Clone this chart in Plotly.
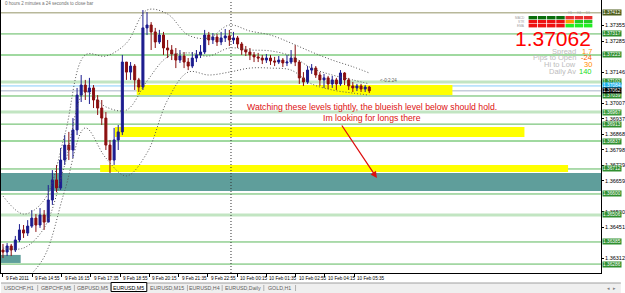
import plotly.graph_objects as go

# ---------------- chart values ----------------
bars = list(range(90))
opens = [1.36349, 1.36340, 1.36367, 1.36349, 1.36394, 1.36439, 1.36425, 1.36456, 1.36492, 1.36461,
         1.36506, 1.36474, 1.36573, 1.36663, 1.36627, 1.36752, 1.36819, 1.36797, 1.36887, 1.37043,
         1.37088, 1.37057, 1.37075, 1.37021, 1.36985, 1.36940, 1.36819, 1.36752, 1.36842, 1.36878,
         1.37191, 1.37146, 1.37173, 1.37111, 1.37079, 1.37344, 1.37357, 1.37326, 1.37281, 1.37312,
         1.37254, 1.37245, 1.37227, 1.37200, 1.37218, 1.37191, 1.37173, 1.37209, 1.37223, 1.37236,
         1.37312, 1.37290, 1.37303, 1.37281, 1.37299, 1.37308, 1.37290, 1.37299, 1.37272, 1.37245,
         1.37236, 1.37223, 1.37214, 1.37209, 1.37200, 1.37209, 1.37196, 1.37191, 1.37200, 1.37187,
         1.37191, 1.37209, 1.37191, 1.37120, 1.37102, 1.37155, 1.37164, 1.37133, 1.37111, 1.37120,
         1.37093, 1.37111, 1.37093, 1.37142, 1.37111, 1.37084, 1.37075, 1.37084, 1.37070, 1.37079]
highs = [1.36376, 1.36380, 1.36376, 1.36412, 1.36465, 1.36461, 1.36483, 1.36528, 1.36510, 1.36537,
         1.36528, 1.36640, 1.36707, 1.36730, 1.36806, 1.36864, 1.36878, 1.36940, 1.37075, 1.37133,
         1.37111, 1.37120, 1.37088, 1.37043, 1.37021, 1.36967, 1.36842, 1.36896, 1.36909, 1.37223,
         1.37191, 1.37191, 1.37182, 1.37120, 1.37424, 1.37415, 1.37370, 1.37344, 1.37335, 1.37326,
         1.37290, 1.37267, 1.37254, 1.37245, 1.37236, 1.37209, 1.37236, 1.37245, 1.37267, 1.37335,
         1.37326, 1.37321, 1.37317, 1.37326, 1.37339, 1.37335, 1.37326, 1.37308, 1.37281, 1.37263,
         1.37254, 1.37236, 1.37232, 1.37223, 1.37227, 1.37223, 1.37214, 1.37218, 1.37209, 1.37223,
         1.37245, 1.37267, 1.37200, 1.37146, 1.37173, 1.37182, 1.37173, 1.37146, 1.37138, 1.37129,
         1.37129, 1.37120, 1.37155, 1.37146, 1.37120, 1.37102, 1.37093, 1.37093, 1.37088, 1.37084]
lows = [1.36313, 1.36322, 1.36322, 1.36340, 1.36385, 1.36403, 1.36412, 1.36448, 1.36430, 1.36448,
        1.36439, 1.36474, 1.36551, 1.36609, 1.36618, 1.36730, 1.36752, 1.36761, 1.36864, 1.37012,
        1.37021, 1.37003, 1.36985, 1.36954, 1.36909, 1.36797, 1.36694, 1.36730, 1.36797, 1.36864,
        1.37111, 1.37111, 1.37066, 1.37057, 1.37066, 1.37312, 1.37245, 1.37254, 1.37272, 1.37223,
        1.37209, 1.37200, 1.37164, 1.37187, 1.37164, 1.37155, 1.37164, 1.37191, 1.37209, 1.37227,
        1.37267, 1.37272, 1.37263, 1.37267, 1.37281, 1.37263, 1.37272, 1.37254, 1.37223, 1.37218,
        1.37200, 1.37191, 1.37191, 1.37182, 1.37187, 1.37178, 1.37173, 1.37182, 1.37169, 1.37173,
        1.37182, 1.37173, 1.37093, 1.37084, 1.37093, 1.37138, 1.37120, 1.37084, 1.37075, 1.37070,
        1.37075, 1.37066, 1.37084, 1.37088, 1.37066, 1.37057, 1.37061, 1.37057, 1.37057, 1.37052]
closes = [1.36340, 1.36367, 1.36349, 1.36394, 1.36439, 1.36425, 1.36456, 1.36492, 1.36461, 1.36506,
          1.36474, 1.36573, 1.36663, 1.36627, 1.36752, 1.36819, 1.36797, 1.36887, 1.37043, 1.37088,
          1.37057, 1.37075, 1.37021, 1.36985, 1.36940, 1.36819, 1.36752, 1.36842, 1.36878, 1.37191,
          1.37146, 1.37173, 1.37111, 1.37079, 1.37344, 1.37357, 1.37326, 1.37281, 1.37312, 1.37254,
          1.37245, 1.37227, 1.37200, 1.37218, 1.37191, 1.37173, 1.37209, 1.37223, 1.37236, 1.37312,
          1.37290, 1.37303, 1.37281, 1.37299, 1.37308, 1.37290, 1.37299, 1.37272, 1.37245, 1.37236,
          1.37223, 1.37214, 1.37209, 1.37200, 1.37209, 1.37196, 1.37191, 1.37200, 1.37187, 1.37191,
          1.37209, 1.37191, 1.37120, 1.37102, 1.37155, 1.37164, 1.37133, 1.37111, 1.37120, 1.37093,
          1.37111, 1.37093, 1.37142, 1.37111, 1.37084, 1.37075, 1.37084, 1.37070, 1.37079, 1.37062]

band_bars = [0, 5, 10, 15, 20, 25, 30, 35, 40, 45, 50, 55, 60, 65, 70, 75, 80, 85, 89]
bb_upper = [1.36591, 1.36510, 1.36573, 1.36864, 1.37223, 1.37218, 1.37276, 1.37424, 1.37406, 1.37312,
            1.37299, 1.37357, 1.37330, 1.37312, 1.37276, 1.37236, 1.37200, 1.37170, 1.37142]
bb_middle = [1.36358, 1.36358, 1.36448, 1.36730, 1.37057, 1.36990, 1.36976, 1.37106, 1.37214, 1.37232,
             1.37218, 1.37254, 1.37245, 1.37241, 1.37218, 1.37164, 1.37133, 1.37111, 1.37093]
bb_lower = [1.36125, 1.36206, 1.36318, 1.36615, 1.36896, 1.36761, 1.36681, 1.36784, 1.37021, 1.37146,
            1.37133, 1.37146, 1.37164, 1.37164, 1.37155, 1.37093, 1.37066, 1.37052, 1.37043]

time_labels = ["9 Feb 2011", "9 Feb 14:55", "9 Feb 16:15", "9 Feb 17:35", "9 Feb 18:55", "9 Feb 20:15",
               "9 Feb 21:35", "9 Feb 22:55", "10 Feb 00:15", "10 Feb 01:35", "10 Feb 02:55",
               "10 Feb 04:15", "10 Feb 05:35"]
tick_prices = [1.37355, 1.37285, 1.37146, 1.37007, 1.36937, 1.36868, 1.36798, 1.36729, 1.36659,
               1.36520, 1.36451, 1.36312]

level_prices = [1.37412, 1.37317, 1.37223, 1.37102, 1.37084, 1.37039, 1.36967, 1.36913, 1.36837,
                1.36712, 1.36600, 1.36506, 1.36385, 1.36286]
level_colors = ["#b8b89a", "#5cb85c", "#80cc80", "#c2e5c2", "#87cefa", "#5cb85c", "#c2e5c2", "#5cb85c",
                "#80cc80", "#5cb85c", "#5cb85c", "#c2e5c2", "#5cb85c", "#5cb85c"]
level_widths = [1.5, 1, 1.5, 3, 1, 1, 3, 1, 1.5, 1, 1, 3, 1, 1]
level_tags = ["#4e5e1c", "#2f8f2f", "#2f8f2f", "#2f8f2f", "#1fb4f0", "#2f8f2f", "#3c9c3c", "#2f8f2f",
              "#2f8f2f", "#2f8f2f", "#2f8f2f", "#2f8f2f", "#2f8f2f", "#2f8f2f"]

yellow_lo = [1.37043, 1.36855, 1.36698]
yellow_hi = [1.37088, 1.36900, 1.36730]
yellow_from = [32.5, 27.2, 23.6]
yellow_to = [109.2, 126.7, 137.3]
teal_lo, teal_hi = 1.36613, 1.36694
small_teal_lo, small_teal_hi, small_teal_to = 1.36291, 1.36327, 4.3
day_separator_bar = 55.4

panel_rows = ["MACD", "STR", "EMA"]
panel_cols = ["M1", "M5", "M15", "M30", "H1", "H4", "D1"]
panel_colors = [["#0b6e0b", "#0b6e0b", "#0b6e0b", "#0b6e0b", "#e83030", "#e83030", "#e83030"],
                ["#ee1111", "#ee1111", "#ee1111", "#ee1111", "#ff9900", "#22cc22", "#22cc22"],
                ["#ee1111", "#ee1111", "#ee1111", "#ee1111", "#22ee22", "#22ee22", "#22ee22"]]
info_names = ["Spread", "Pips to Open", "Hi to Low", "Daily Av"]
info_values = ["1.7", "-24", "30", "140"]
info_colors = ["#ff8c00", "#ff5a00", "#ff8c00", "#22dd22"]

tabs = ["USDCHF,H1", "GBPCHF,M5", "GBPUSD,M5", "EURUSD,M5", "EURUSD,M15", "EURUSD,H4", "EURUSD,Daily", "GOLD,H1"]
active_tab = 3
note_lines = ["Watching these levels tightly, the blueish level below should hold.",
              "Im looking for longs there"]

# ---------------- layout geometry ----------------
W, H = 625, 293
PW, PH = 605, 273
BAR_PX = 4.15
FONT = "Arial, Liberation Sans, sans-serif"


def px(x):
    return x / PW


def py(y):
    return (PH - y) / PH


fig = go.Figure()

for band in (bb_upper, bb_middle, bb_lower):
    fig.add_trace(go.Scatter(x=band_bars, y=band, mode="lines",
                             line=dict(color="#555555", width=1, dash="1px,2px", shape="spline"),
                             hoverinfo="skip", showlegend=False))

fig.add_trace(go.Candlestick(
    x=bars, open=opens, high=highs, low=lows, close=closes,
    increasing=dict(line=dict(color="#1c1c8f", width=1), fillcolor="#1c1c8f"),
    decreasing=dict(line=dict(color="#8b0f0f", width=1), fillcolor="#8b0f0f"),
    whiskerwidth=0, hoverinfo="skip", showlegend=False))

shapes = []
annotations = []

# zones
shapes.append(dict(type="rect", xref="paper", yref="y", x0=0, x1=1, y0=teal_lo, y1=teal_hi,
                   fillcolor="#5f9e9b", line=dict(width=0), layer="below"))
shapes.append(dict(type="rect", xref="x", yref="y", x0=-0.5, x1=small_teal_to, y0=small_teal_lo,
                   y1=small_teal_hi, fillcolor="#5f9e9b", line=dict(width=0), layer="below"))
for lo, hi, a, b in zip(yellow_lo, yellow_hi, yellow_from, yellow_to):
    shapes.append(dict(type="rect", xref="x", yref="y", x0=a, x1=b, y0=lo, y1=hi,
                       fillcolor="#ffff00", line=dict(width=0), layer="below"))

# horizontal levels + price tags
for p, c, w, tag in zip(level_prices, level_colors, level_widths, level_tags):
    shapes.append(dict(type="line", xref="paper", yref="y", x0=0, x1=1, y0=p, y1=p,
                       line=dict(color=c, width=w), layer="below"))
    annotations.append(dict(xref="paper", yref="y", x=1, y=p, xanchor="left", yanchor="middle",
                            xshift=1, text=f"{p:.5f}", showarrow=False, bgcolor=tag,
                            font=dict(size=4.8, color="white", family=FONT), borderpad=0))
last = closes[-1]
shapes.append(dict(type="line", xref="paper", yref="y", x0=0, x1=1, y0=last, y1=last,
                   line=dict(color="#a8b4c8", width=1), layer="below"))
annotations.append(dict(xref="paper", yref="y", x=1, y=last, xanchor="left", yanchor="middle",
                        xshift=1, text=f"{last:.5f}", showarrow=False, bgcolor="#000000",
                        font=dict(size=4.8, color="white", family=FONT), borderpad=0))

# day separator
shapes.append(dict(type="line", xref="x", yref="paper", x0=day_separator_bar, x1=day_separator_bar,
                   y0=0, y1=1, line=dict(color="#303030", width=1, dash="1px,2px")))

# time labels
tick_pos = [k * 7.11 for k in range(len(time_labels))]
for pos, lab in zip(tick_pos, time_labels):
    annotations.append(dict(xref="x", yref="paper", x=pos, y=0, xanchor="left", yanchor="top",
                            xshift=1, yshift=-1, text=lab, showarrow=False,
                            font=dict(size=4.6, color="#000000", family=FONT)))

# header countdown
annotations.append(dict(xref="paper", yref="paper", x=px(2), y=py(4), xanchor="left", yanchor="middle",
                        text="0 hours 2 minutes a 24 seconds to close bar", showarrow=False,
                        font=dict(size=4.5, color="#707070", family=FONT)))
annotations.append(dict(xref="paper", yref="paper", x=px(380), y=py(81), xanchor="left", yanchor="middle",
                        text="<-0:2:24", showarrow=False, font=dict(size=4.5, color="#606060", family=FONT)))

# indicator panel
col_x0 = 532
for r, row in enumerate(panel_colors):
    for c, col in enumerate(row):
        x0 = col_x0 + c * 9.3
        y0 = 16 + r * 4
        shapes.append(dict(type="rect", xref="paper", yref="paper", x0=px(x0), x1=px(x0 + 8.5),
                           y0=py(y0 + 3.4), y1=py(y0), fillcolor=col, line=dict(width=0)))
    annotations.append(dict(xref="paper", yref="paper", x=px(530), y=py(17.7 + r * 4), xanchor="right",
                            yanchor="middle", text=panel_rows[r], showarrow=False,
                            font=dict(size=3.2, color="#a0a0a0", family=FONT)))
for c, name in enumerate(panel_cols[4:]):
    annotations.append(dict(xref="paper", yref="paper", x=px(col_x0 + (c + 4) * 9.3 + 4.2), y=py(13),
                            xanchor="center", yanchor="middle", text=name, showarrow=False,
                            font=dict(size=3.2, color="#a0a0a0", family=FONT)))

annotations.append(dict(xref="paper", yref="paper", x=px(597), y=py(38.5), xanchor="right", yanchor="middle",
                        text=f"{last:.5f}", showarrow=False, font=dict(size=21, color="#ff0000", family=FONT)))
for k, (n, v, vc) in enumerate(zip(info_names, info_values, info_colors)):
    yy = 51 + k * 6.8
    annotations.append(dict(xref="paper", yref="paper", x=px(581), y=py(yy), xanchor="right",
                            yanchor="middle", text=n, showarrow=False, borderpad=0,
                            font=dict(size=7.5, color="#bdbdbd", family=FONT)))
    annotations.append(dict(xref="paper", yref="paper", x=px(597), y=py(yy), xanchor="right",
                            yanchor="middle", text=v, showarrow=False, borderpad=0,
                            font=dict(size=7.5, color=vc, family=FONT)))

# note + arrow
for k, line in enumerate(note_lines):
    annotations.append(dict(xref="paper", yref="paper", x=px(374), y=py(107 + 11 * k), xanchor="center",
                            yanchor="middle", text=line, showarrow=False,
                            font=dict(size=8.7, color="#dd1111", family=FONT)))
annotations.append(dict(xref="paper", yref="paper", x=px(379), y=py(178), ax=-36, ay=-54, text="",
                        showarrow=True, arrowhead=2, arrowsize=1, arrowwidth=1.3, arrowcolor="#dd1111"))

# tab bar
shapes.append(dict(type="rect", xref="paper", yref="paper", x0=0, x1=W / PW, y0=py(H), y1=py(283),
                   fillcolor="#efefef", line=dict(width=0)))
shapes.append(dict(type="line", xref="paper", yref="paper", x0=0, x1=W / PW, y0=py(283), y1=py(283),
                   line=dict(color="#a0a0a0", width=1)))
edges = [0, 37, 74, 111, 147, 188, 223, 265, 297]
for k, name in enumerate(tabs):
    a, b = edges[k], edges[k + 1]
    if k == active_tab:
        shapes.append(dict(type="rect", xref="paper", yref="paper", x0=px(a), x1=px(b), y0=py(291.5),
                           y1=py(282.5), fillcolor="#ffffff", line=dict(color="#000000", width=1)))
    else:
        shapes.append(dict(type="line", xref="paper", yref="paper", x0=px(b), x1=px(b), y0=py(291),
                           y1=py(285), line=dict(color="#b0b0b0", width=1)))
    annotations.append(dict(xref="paper", yref="paper", x=px((a + b) / 2), y=py(287.5), xanchor="center",
                            yanchor="middle", text=name, showarrow=False,
                            font=dict(size=5.3, color="#000000" if k == active_tab else "#606060",
                                      family=FONT)))
annotations.append(dict(xref="paper", yref="paper", x=px(616), y=py(288), xanchor="center", yanchor="middle",
                        text="◂  ▸", showarrow=False, font=dict(size=5, color="#808080", family=FONT)))

fig.update_layout(
    width=W, height=H, autosize=False,
    margin=dict(l=0, r=W - PW, t=0, b=H - PH, pad=0),
    paper_bgcolor="#ffffff", plot_bgcolor="#ffffff",
    showlegend=False, hovermode=False,
    shapes=shapes, annotations=annotations,
    xaxis=dict(range=[-2 / BAR_PX, (PW - 2) / BAR_PX], rangeslider=dict(visible=False),
               showgrid=False, zeroline=False, showline=True, linecolor="#000000", linewidth=1,
               tickvals=tick_pos, ticks="outside", ticklen=3, tickcolor="#000000",
               showticklabels=False, fixedrange=True),
    yaxis=dict(range=[1.36246, 1.37469], side="right", showgrid=False, zeroline=False,
               showline=True, mirror=True, linecolor="#000000", linewidth=1,
               tickvals=tick_prices, ticktext=[f"{t:.5f}" for t in tick_prices],
               ticks="outside", ticklen=2, tickcolor="#000000",
               tickfont=dict(size=5.5, color="#000000", family=FONT), fixedrange=True),
)

fig.write_html("out.html")
